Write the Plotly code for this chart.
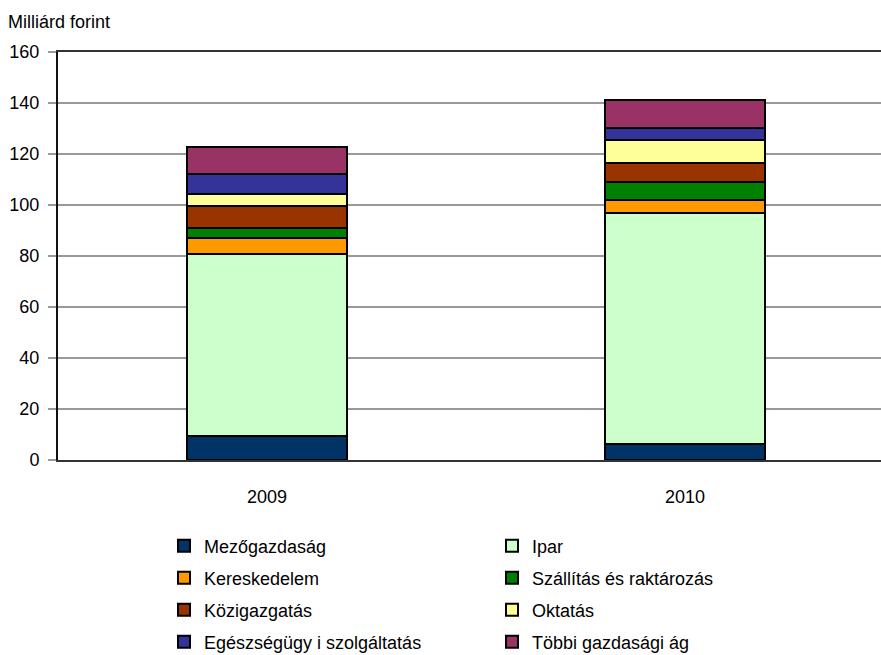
import plotly.graph_objects as go

years = ["2009", "2010"]
sectors = ["Mezőgazdaság", "Ipar", "Kereskedelem", "Szállítás és raktározás",
           "Közigazgatás", "Oktatás", "Egészségügy i szolgáltatás", "Többi gazdasági ág"]
colors = ["#003366", "#CCFFCC", "#FF9900", "#008000",
          "#993300", "#FFFF99", "#333399", "#993366"]

mezogazdasag = [9.5, 6.3]
ipar = [71.3, 90.4]
kereskedelem = [6.4, 5.3]
szallitas = [3.8, 7.1]
kozigazgatas = [8.6, 7.2]
oktatas = [4.8, 9.2]
egeszsegugy = [7.8, 4.7]
tobbi = [10.4, 11.0]

values = [mezogazdasag, ipar, kereskedelem, szallitas,
          kozigazgatas, oktatas, egeszsegugy, tobbi]

FONT = "Liberation Sans, Arial, sans-serif"
L, R, T, B = 58, 0, 52, 195
W, H = 881, 655
PW = W - L - R
PH = H - T - B

legend_names = ["legend", "legend2", "legend3", "legend4"]

fig = go.Figure()
for i, (name, col, vals) in enumerate(zip(sectors, colors, values)):
    fig.add_trace(go.Bar(
        x=years, y=vals, name=name,
        marker=dict(color=col, line=dict(color="#000000", width=2)),
        width=0.385,
        legend=legend_names[i // 2],
    ))

layout_legends = {}
row_centers = [546, 578, 610, 642]
for k, ln in enumerate(legend_names):
    layout_legends[ln] = dict(
        orientation="h",
        x=(164 - L) / PW, xanchor="left",
        y=(PH + T - row_centers[k]) / PH, yanchor="middle",
        entrywidth=283, entrywidthmode="pixels",
        font=dict(family=FONT, size=18, color="#000000"),
        bgcolor="rgba(0,0,0,0)", borderwidth=0,
        traceorder="normal",
    )

fig.update_layout(
    width=W, height=H,
    margin=dict(l=L, r=R, t=T, b=B, autoexpand=False),
    barmode="stack",
    plot_bgcolor="#FFFFFF", paper_bgcolor="#FFFFFF",
    font=dict(family=FONT, size=18, color="#000000"),
    showlegend=True,
    **layout_legends,
    annotations=[dict(
        text="Milliárd forint", xref="paper", yref="paper",
        x=0, xshift=-52, xanchor="left", y=1, yshift=30, yanchor="middle",
        showarrow=False, font=dict(family=FONT, size=18, color="#000000"),
    )],
)
fig.update_xaxes(
    type="category", range=[-0.5, 1.469], automargin=False,
    showline=True, linecolor="#333333", linewidth=2, mirror=True,
    showgrid=False, ticks="", ticklabelstandoff=19,
    tickfont=dict(family=FONT, size=18, color="#000000"),
)
fig.update_yaxes(
    range=[0, 160], dtick=20, automargin=False,
    showline=True, linecolor="#111111", linewidth=2,
    showgrid=True, gridcolor="#999999", gridwidth=1.5,
    ticks="outside", ticklen=8, tickcolor="#999999", tickwidth=1.5,
    ticklabelstandoff=5, zeroline=False,
    tickfont=dict(family=FONT, size=18, color="#000000"),
)

fig.write_html(
    "out.html",
    config={"displayModeBar": False},
    post_script="document.body.style.margin='0';document.body.style.overflow='hidden';",
)
